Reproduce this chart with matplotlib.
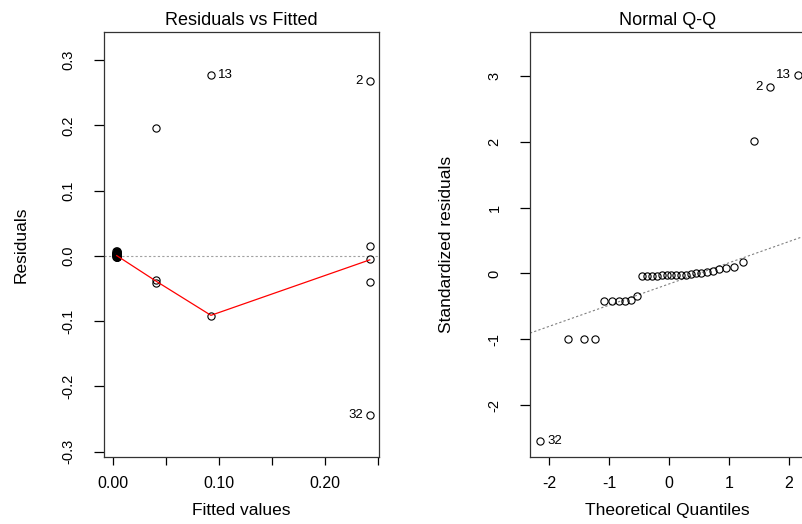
import matplotlib
matplotlib.use("Agg")
import matplotlib.pyplot as plt
from matplotlib.ticker import FixedLocator, FixedFormatter

plt.rcParams['font.family'] = ['Liberation Sans', 'DejaVu Sans']
plt.rcParams['axes.unicode_minus'] = False

# Residuals vs Fitted (index 1 -> obs 2, index 12 -> obs 13, index 31 -> obs 32)
fitted = [0.0030, 0.2425, 0.0035, 0.0030, 0.0040, 0.0035, 0.0030, 0.0035,
          0.0035, 0.0040, 0.0030, 0.0035, 0.0925, 0.0030, 0.0035, 0.0040,
          0.0030, 0.0035, 0.0030, 0.0040, 0.0035, 0.0030, 0.0410, 0.0410,
          0.0410, 0.0925, 0.0030, 0.2425, 0.2425, 0.2425, 0.0035, 0.2425]
resid = [0.002, 0.268, 0.006, -0.002, 0.004, -0.001, 0.007, 0.003,
         -0.002, 0.001, 0.005, 0.008, 0.277, 0.002, 0.004, -0.002,
         0.000, 0.006, 0.003, 0.001, -0.001, 0.005, -0.0375, -0.041,
         0.196, -0.092, 0.003, 0.0153, -0.004, -0.040, 0.002, -0.243]
smooth_x = [0.0035, 0.041, 0.0925, 0.2425]
smooth_y = [0.0005, -0.039, -0.091, -0.006]
rf_labels = [(1, "2", "left"), (12, "13", "right"), (31, "32", "left")]

# Normal Q-Q
qq_x = [-2.15, -1.68, -1.42, -1.23, -1.08, -0.95, -0.83, -0.73, -0.63, -0.53,
        -0.45, -0.36, -0.28, -0.20, -0.12, -0.04, 0.04, 0.12, 0.20, 0.28,
        0.36, 0.45, 0.53, 0.63, 0.73, 0.83, 0.95, 1.08, 1.23, 1.42, 1.68, 2.15]
qq_y = [-2.55, -1.00, -1.00, -1.00, -0.42, -0.42, -0.42, -0.42, -0.41, -0.35,
        -0.036, -0.035, -0.034, -0.032, -0.030, -0.028, -0.026, -0.024, -0.022, -0.018,
        -0.010, 0.000, 0.010, 0.025, 0.040, 0.065, 0.085, 0.100, 0.170, 2.01, 2.83, 3.02]
qq_labels = [(0, "32", "right"), (30, "2", "left"), (31, "13", "left")]
qq_intercept = -0.16
qq_slope = 0.322

fig = plt.figure(figsize=(8.02, 5.24), dpi=100)

ax1 = fig.add_axes([104 / 802, 67 / 524, 275 / 802, 425 / 524])
ax2 = fig.add_axes([530 / 802, 67 / 524, 275 / 802, 425 / 524])

mk = dict(marker='o', ms=5.2, mfc='none', mec='black', mew=0.8, ls='none')

# panel 1
ax1.axhline(0, color='#a0a0a0', lw=0.8, ls=(0, (2, 2)))
ax1.plot(fitted, resid, **mk)
ax1.plot(smooth_x, smooth_y, color='red', lw=0.9)
for i, t, side in rf_labels:
    dx = 5 if side == "right" else -5
    ax1.annotate(t, (fitted[i], resid[i]), xytext=(dx, 0), textcoords='offset points',
                 ha='left' if side == "right" else 'right', va='center', fontsize=9.5)
ax1.set_xlim(-0.0085, 0.2512)
ax1.set_ylim(-0.308, 0.343)
xt = [0.0, 0.05, 0.10, 0.15, 0.20, 0.25]
ax1.xaxis.set_major_locator(FixedLocator(xt))
ax1.xaxis.set_major_formatter(FixedFormatter(["0.00", "", "0.10", "", "0.20", ""]))
ax1.set_yticks([-0.3, -0.2, -0.1, 0.0, 0.1, 0.2, 0.3])
ax1.set_yticklabels(["-0.3", "-0.2", "-0.1", "0.0", "0.1", "0.2", "0.3"])
ax1.set_title("Residuals vs Fitted", fontsize=13, pad=5)
ax1.set_xlabel("Fitted values", fontsize=12.5, labelpad=8.5)
ax1.set_ylabel("Residuals", fontsize=12.5, labelpad=24)

# panel 2
ax2.set_xlim(-2.32, 2.27)
ax2.set_ylim(-2.79, 3.67)
lx = [-2.32, 2.27]
ax2.plot(lx, [qq_intercept + qq_slope * v for v in lx], color='#808080', lw=0.8,
         ls=(0, (2, 2)))
ax2.plot(qq_x, qq_y, **mk)
for i, t, side in qq_labels:
    dx = 5 if side == "right" else -5
    ax2.annotate(t, (qq_x[i], qq_y[i]), xytext=(dx, 0), textcoords='offset points',
                 ha='left' if side == "right" else 'right', va='center', fontsize=9.5)
ax2.set_xticks([-2, -1, 0, 1, 2])
ax2.set_xticklabels(["-2", "-1", "0", "1", "2"])
ax2.set_yticks([-2, -1, 0, 1, 2, 3])
ax2.set_yticklabels(["-2", "-1", "0", "1", "2", "3"])
ax2.set_title("Normal Q-Q", fontsize=13, pad=5)
ax2.set_xlabel("Theoretical Quantiles", fontsize=12.5, labelpad=8.5)
ax2.set_ylabel("Standardized residuals", fontsize=12.5, labelpad=24)

for ax in (ax1, ax2):
    for s in ax.spines.values():
        s.set_color('#333333')
        s.set_linewidth(0.9)
    ax.tick_params(axis='x', length=6, width=0.9, pad=8, labelsize=11.5)
    ax.tick_params(axis='y', length=7.5, width=0.9, pad=13, labelsize=10.5)
    for lab in ax.get_yticklabels():
        lab.set_rotation(90)
        lab.set_va('center')

fig.savefig("out.png", dpi=100)
